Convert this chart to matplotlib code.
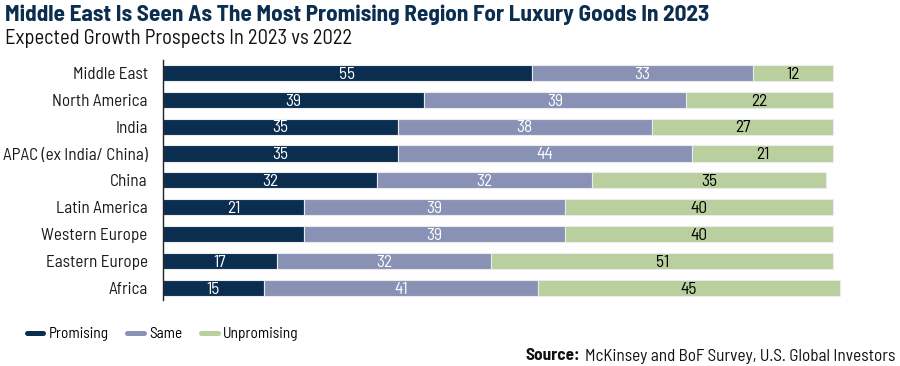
import matplotlib
matplotlib.use("Agg")
import matplotlib.pyplot as plt
from matplotlib.lines import Line2D

FONT = ['Barlow Semi Condensed', 'Archivo Narrow', 'DejaVu Sans']
plt.rcParams['font.family'] = FONT

regions = ["Middle East", "North America", "India", "APAC (ex India/ China)", "China",
           "Latin America", "Western Europe", "Eastern Europe", "Africa"]
promising = [55, 39, 35, 35, 32, 21, 21, 17, 15]
same = [33, 39, 38, 44, 32, 39, 39, 32, 41]
unpromising = [12, 22, 27, 21, 35, 40, 40, 51, 45]
promising_labels = ["55", "39", "35", "35", "32", "21", "", "17", "15"]

series_names = ["Promising", "Same", "Unpromising"]
colors = ["#0b2d4f", "#8991b4", "#bacf9e"]
text_colors = ["white", "white", "black"]

fig = plt.figure(figsize=(9, 3.66), dpi=100)
ax = fig.add_axes([163/900, 1-300/366, 1-163/900, 240/366])

y = list(range(len(regions)))
left = [0]*len(regions)
for si, vals in enumerate([promising, same, unpromising]):
    ax.barh(y, vals, left=left, height=0.6, color=colors[si],
            edgecolor="#e8ecef", linewidth=0.8)
    for i, (l, v) in enumerate(zip(left, vals)):
        lab = promising_labels[i] if si == 0 else str(v)
        if lab:
            ax.text(l + v/2, i + 0.05, lab, ha="center", va="center",
                    color=text_colors[si], fontsize=12.5)
    left = [a + b for a, b in zip(left, vals)]

ax.set_xlim(0, 110)
ax.set_ylim(8.45, -0.48)
ax.set_yticks(y)
ax.set_yticklabels(regions, fontsize=12.3, color="#1a1a1a")
ax.tick_params(axis="y", length=0, pad=11)
ax.set_xticks([])
for s in ["top", "right", "bottom"]:
    ax.spines[s].set_visible(False)
ax.spines["left"].set_color("#222222")
ax.spines["left"].set_linewidth(1.0)

title = fig.text(5/900, 1-15/366, "Middle East Is Seen As The Most Promising Region For Luxury Goods In 2023",
                 fontsize=17, fontweight="bold", color="#0b2d4f", va="center", ha="left")
sub = fig.text(5/900, 1-39/366, "Expected Growth Prospects In 2023 vs 2022",
               fontsize=13.5, color="#111111", va="center", ha="left")

handles = [Line2D([0], [0], color=c, lw=3.6, solid_capstyle="round") for c in colors]
fig.legend(handles, series_names, loc="center left", bbox_to_anchor=(26.5/900, 1-334/366),
           ncol=3, frameon=False, fontsize=11, handlelength=1.1, columnspacing=1.2,
           handletextpad=0.36, borderpad=0.0, borderaxespad=0.0)

src = fig.text(895/900, 1-356/366, "McKinsey and BoF Survey, U.S. Global Investors",
               fontsize=11.5, ha="right", va="center", color="#111111")

fig.canvas.draw()
r = fig.canvas.get_renderer()
for t, target in [(title, 707), (sub, 347), (src, 312)]:
    w = t.get_window_extent(r).width
    t.set_fontsize(t.get_fontsize() * target / w)
fig.canvas.draw()
x0 = src.get_window_extent(r).x0
fig.text((x0 - 5)/900, 1-356/366, "Source:", fontsize=src.get_fontsize(),
         fontweight="bold", ha="right", va="center", color="#111111")

fig.savefig("out.png", dpi=100)
